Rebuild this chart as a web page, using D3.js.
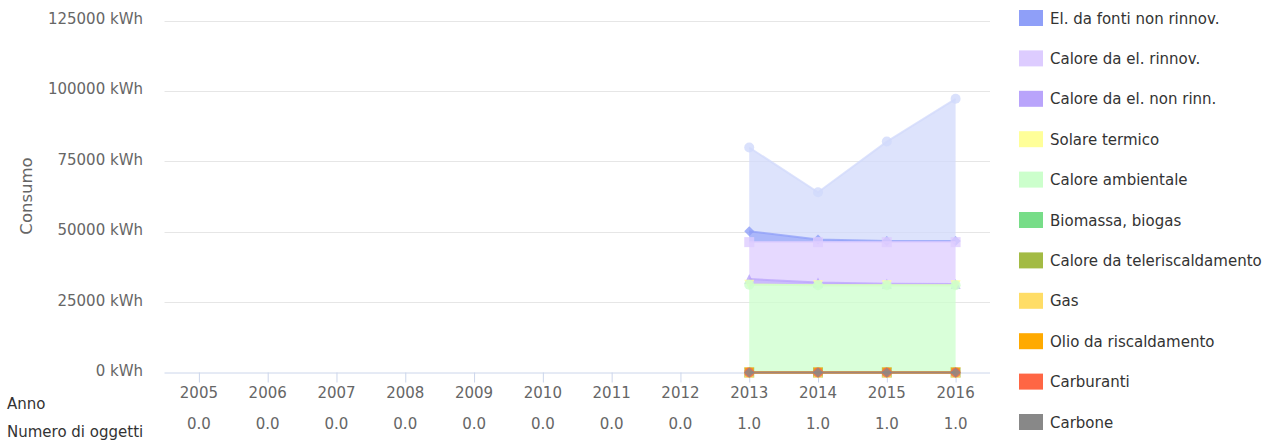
<!DOCTYPE html>
<html><head><meta charset="utf-8">
<script src="https://cdn.jsdelivr.net/npm/d3@7"></script>
<style>
body{margin:0;background:#fff;}
svg{display:block;font-family:"DejaVu Sans",sans-serif;}
</style>
</head><body>
<svg id="chart" width="1269" height="441"></svg>
<script>
// ---- DATA ----
const years = ["2005","2006","2007","2008","2009","2010","2011","2012","2013","2014","2015","2016"];
const objectCounts = ["0.0","0.0","0.0","0.0","0.0","0.0","0.0","0.0","1.0","1.0","1.0","1.0"];
const yTicks = [0, 25000, 50000, 75000, 100000, 125000];
const yAxisTitle = "Consumo";
const rowTitle1 = "Anno";
const rowTitle2 = "Numero di oggetti";

const seriesNames = [
  "El. da fonti rinnov.",
  "El. da fonti non rinnov.",
  "Calore da el. rinnov.",
  "Calore da el. non rinn.",
  "Solare termico",
  "Calore ambientale",
  "Biomassa, biogas",
  "Calore da teleriscaldamento",
  "Gas",
  "Olio da riscaldamento",
  "Carburanti",
  "Carbone"
];
const showInLegend = [false,true,true,true,true,true,true,true,true,true,true,true];
const seriesColors = ["#d1d9fb","#8f9ff8","#ddccff","#b9a4fb","#ffff99","#ccffcc","#77dd88","#a3bb44","#ffdd66","#ffaa00","#ff6644","#888888"];

const N = null;
const elRinnov       = [N,N,N,N,N,N,N,N, 29700, 16800, 35300, 50500];
const elNonRinnov    = [N,N,N,N,N,N,N,N,  3900,   900,   400,   400];
const caloreElRinnov = [N,N,N,N,N,N,N,N, 13100, 14300, 14800, 14900];
const caloreElNonRinn= [N,N,N,N,N,N,N,N,  2000,  1000,   500,   400];
const solareTermico  = [N,N,N,N,N,N,N,N,     0,     0,     0,     0];
const caloreAmbient  = [N,N,N,N,N,N,N,N, 31200, 31000, 31000, 31000];
const biomassa       = [N,N,N,N,N,N,N,N,     0,     0,     0,     0];
const teleriscald    = [N,N,N,N,N,N,N,N,     0,     0,     0,     0];
const gas            = [N,N,N,N,N,N,N,N,     0,     0,     0,     0];
const olio           = [N,N,N,N,N,N,N,N,     0,     0,     0,     0];
const carburanti     = [N,N,N,N,N,N,N,N,     0,     0,     0,     0];
const carbone        = [N,N,N,N,N,N,N,N,     0,     0,     0,     0];
const seriesValues = [elRinnov, elNonRinnov, caloreElRinnov, caloreElNonRinn, solareTermico,
  caloreAmbient, biomassa, teleriscald, gas, olio, carburanti, carbone];
const markerSymbols = ["circle","diamond","square","triangle","triangle-down"];

// ---- LAYOUT ----
const plot = {left: 164.5, right: 990, top: 20.5, bottom: 372.5};
const svg = d3.select("#chart");

const x = d3.scalePoint().domain(years).range([plot.left, plot.right]).padding(0.5);
const y = d3.scaleLinear().domain([0, 125000]).range([plot.bottom, plot.top]);

// grid lines
svg.append("g").selectAll("line").data(yTicks.filter(t => t > 0)).join("line")
  .attr("x1", plot.left).attr("x2", plot.right)
  .attr("y1", d => Math.round(y(d)) + 0.5).attr("y2", d => Math.round(y(d)) + 0.5)
  .attr("stroke", "#e6e6e6").attr("stroke-width", 1);

// y axis labels
const yAxis = d3.axisLeft(y).tickValues(yTicks).tickSize(0).tickPadding(0)
  .tickFormat(d => d + " kWh");
const gy = svg.append("g").attr("transform", `translate(143,0)`).call(yAxis);
gy.select(".domain").remove();
gy.selectAll("text").attr("font-size", 15).attr("fill", "#666666")
  .attr("font-family", "DejaVu Sans, sans-serif").attr("dy", "0.2em");

// y axis title
svg.append("text").attr("transform", "translate(32,196) rotate(-90)")
  .attr("text-anchor", "middle").attr("font-size", 16.5).attr("fill", "#666666")
  .text(yAxisTitle);

// x axis
const xAxis = d3.axisBottom(x).tickSize(10).tickPadding(0).tickFormat("");
const gx = svg.append("g").attr("transform", `translate(0,${plot.bottom})`).call(xAxis);
gx.select(".domain").attr("d", `M${plot.left},0.5H${plot.right}`).attr("stroke", "#ccd6eb");
gx.selectAll(".tick line").attr("stroke", "#ccd6eb");

// category labels
svg.append("g").selectAll("text").data(years).join("text")
  .attr("x", d => x(d)).attr("y", 398).attr("text-anchor", "middle")
  .attr("font-size", 15).attr("fill", "#666666").text(d => d);
svg.append("g").selectAll("text").data(years).join("text")
  .attr("x", d => x(d)).attr("y", 429).attr("text-anchor", "middle")
  .attr("font-size", 15).attr("fill", "#666666").text((d, i) => objectCounts[i]);
svg.append("text").attr("x", 7).attr("y", 409).attr("font-size", 15).attr("fill", "#333333").text(rowTitle1);
svg.append("text").attr("x", 7).attr("y", 437).attr("font-size", 15).attr("fill", "#333333").text(rowTitle2);

// ---- STACK ----
const rows = years.map((yr, j) => {
  const o = {year: yr};
  seriesNames.forEach((n, i) => { o[n] = seriesValues[i][j]; });
  return o;
});
const stack = d3.stack().keys(seriesNames.slice().reverse()).value((d, k) => d[k] == null ? 0 : d[k]);
const stacked = stack(rows);
const stackByName = {};
stacked.forEach(s => { stackByName[s.key] = s; });

function markerPath(sym, r) {
  if (sym === "circle") return d3.symbol(d3.symbolCircle, Math.PI * r * r)();
  if (sym === "square") return `M${-r},${-r}H${r}V${r}H${-r}Z`;
  if (sym === "diamond") return `M0,${-r}L${r},0L0,${r}L${-r},0Z`;
  if (sym === "triangle") return `M0,${-r}L${r},${r}L${-r},${r}Z`;
  return `M${-r},${-r}L${r},${-r}L0,${r}Z`;
}

const gSeries = svg.append("g");
seriesNames.forEach((name, i) => {
  const s = stackByName[name];
  const vals = seriesValues[i];
  const pts = s.map((d, j) => ({x: x(years[j]), y0: y(d[0]), y1: y(d[1]), def: vals[j] != null}));
  const g = gSeries.append("g");
  const area = d3.area().defined(d => d.def).x(d => d.x).y0(d => d.y0).y1(d => d.y1);
  const line = d3.line().defined(d => d.def).x(d => d.x).y(d => d.y1);
  g.append("path").attr("d", area(pts)).attr("fill", seriesColors[i]).attr("fill-opacity", 0.75);
  g.append("path").attr("d", line(pts)).attr("fill", "none").attr("stroke", seriesColors[i])
    .attr("stroke-width", 2).attr("stroke-opacity", 0.75).attr("stroke-linejoin", "round");
  const sym = markerSymbols[i % markerSymbols.length];
  g.append("g").selectAll("path").data(pts.filter(d => d.def)).join("path")
    .attr("transform", d => `translate(${d.x},${d.y1})`)
    .attr("d", markerPath(sym, 5)).attr("fill", seriesColors[i]).attr("fill-opacity", 0.8);
});

// ---- LEGEND ----
const legendItems = seriesNames.map((n, i) => ({name: n, color: seriesColors[i], show: showInLegend[i]})).filter(d => d.show);
const lg = svg.append("g").selectAll("g").data(legendItems).join("g")
  .attr("transform", (d, i) => `translate(1019,${18 + i * 40.4})`);
lg.append("rect").attr("x", 0).attr("y", -8).attr("width", 24).attr("height", 16).attr("fill", d => d.color);
lg.append("text").attr("x", 31).attr("y", 5.5).attr("font-size", 15).attr("fill", "#333333").text(d => d.name);
</script>
</body></html>
